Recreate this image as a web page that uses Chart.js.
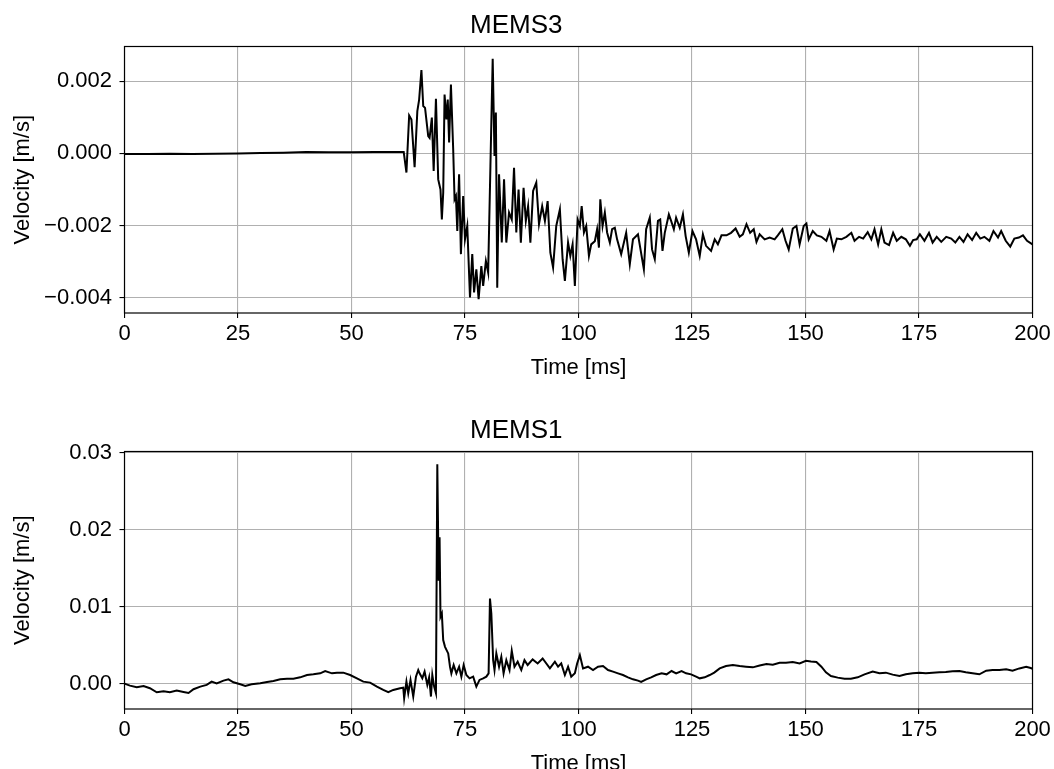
<!DOCTYPE html>
<html><head><meta charset="utf-8">
<script src="https://cdn.jsdelivr.net/npm/chart.js@4/dist/chart.umd.min.js"></script>
<style>
html,body{margin:0;padding:0;background:#fff;overflow:hidden;width:1054px;height:769px;}
canvas{position:absolute;left:0;}
#c1{top:0px}
#c2{top:405px}
</style></head><body>
<canvas id="c1" width="1054" height="384"></canvas>
<canvas id="c2" width="1054" height="375"></canvas>
<script>
const xTicks = [0,25,50,75,100,125,150,175,200];

const mems3Time = [0,5,10,15,20,25,30,35,40,45,50,55,60,61.5,62.1,62.7,63.2,63.9,64.5,64.9,65.4,65.8,66.2,66.9,67.2,67.7,68.1,68.6,69.1,69.6,69.9,70.2,70.5,70.9,71.2,71.5,71.9,72.4,72.7,73.0,73.3,73.7,74.1,74.6,75.0,75.5,76.1,76.6,77.0,77.5,78.0,78.6,79.0,79.6,80.1,80.6,81.1,81.5,81.8,82.1,82.5,83.1,83.6,84.1,84.7,85.3,85.8,86.3,86.8,87.3,87.9,88.4,88.9,89.4,90.0,90.7,91.3,92.0,92.6,93.2,93.8,94.4,95.1,95.9,96.5,97.0,97.7,98.2,98.7,99.2,99.8,100.3,100.7,101.2,101.7,102.3,102.8,103.6,104.1,104.5,104.8,105.3,105.8,106.3,106.9,107.4,108.0,108.5,109.4,110.5,111.3,112.0,113.1,114.4,114.9,115.7,116.2,116.8,117.5,118.0,118.5,119.0,119.9,120.4,121.0,121.5,122.3,123.0,123.6,124.3,125.1,125.9,126.7,127.4,128.1,129.2,130.0,130.7,131.5,132.6,133.6,134.6,135.5,136.2,137.0,137.8,138.6,139.2,139.9,141.0,142.1,143.2,143.9,144.9,145.6,146.3,147.2,148.0,148.7,149.6,150.2,150.7,151.6,152.5,153.5,154.6,155.3,156.2,156.9,157.9,159.0,160.1,160.8,161.8,162.7,163.7,164.5,165.2,166.0,166.7,167.4,168.4,169.3,170.1,171.1,172.1,173.0,173.7,174.5,175.2,176.2,177.2,178.0,178.9,179.9,181.0,182.1,183.0,183.9,184.8,185.7,186.7,187.6,188.5,189.4,190.5,191.4,192.4,193.1,194.1,195.1,196.0,197.0,197.9,198.8,200.0];
const mems3Vel = [-0.00002,-0.00002,-0.00001,-0.00002,-0.00001,0.00000,0.00001,0.00002,0.00004,0.00003,0.00003,0.00004,0.00004,0.00004,-0.00053,0.00105,0.00094,-0.00038,0.00117,0.00149,0.00231,0.00131,0.00126,0.00048,0.00043,0.00099,-0.00049,0.00151,-0.00072,-0.00100,-0.00183,-0.00109,0.00163,0.00094,0.00149,0.00030,0.00191,0.00011,-0.00127,-0.00118,-0.00215,-0.00058,-0.00279,-0.00118,-0.00238,-0.00201,-0.00399,-0.00279,-0.00385,-0.00321,-0.00404,-0.00312,-0.00367,-0.00298,-0.00330,-0.00035,0.00262,-0.00007,0.00113,-0.00372,-0.00058,-0.00247,-0.00072,-0.00247,-0.00164,-0.00183,-0.00040,-0.00219,-0.00100,-0.00247,-0.00095,-0.00187,-0.00146,-0.00247,-0.00104,-0.00081,-0.00196,-0.00146,-0.00187,-0.00132,-0.00275,-0.00316,-0.00201,-0.00155,-0.00293,-0.00353,-0.00247,-0.00284,-0.00252,-0.00367,-0.00183,-0.00201,-0.00146,-0.00219,-0.00201,-0.00284,-0.00252,-0.00243,-0.00210,-0.00261,-0.00127,-0.00201,-0.00164,-0.00219,-0.00247,-0.00210,-0.00206,-0.00238,-0.00279,-0.00220,-0.00307,-0.00238,-0.00224,-0.00321,-0.00210,-0.00178,-0.00266,-0.00293,-0.00187,-0.00183,-0.00270,-0.00220,-0.00169,-0.00187,-0.00210,-0.00178,-0.00206,-0.00169,-0.00229,-0.00275,-0.00215,-0.00238,-0.00284,-0.00224,-0.00256,-0.00270,-0.00238,-0.00252,-0.00227,-0.00227,-0.00220,-0.00208,-0.00231,-0.00224,-0.00196,-0.00220,-0.00210,-0.00245,-0.00224,-0.00238,-0.00233,-0.00238,-0.00227,-0.00210,-0.00242,-0.00266,-0.00208,-0.00201,-0.00252,-0.00201,-0.00194,-0.00238,-0.00215,-0.00227,-0.00231,-0.00242,-0.00215,-0.00266,-0.00236,-0.00238,-0.00231,-0.00220,-0.00242,-0.00231,-0.00236,-0.00218,-0.00238,-0.00210,-0.00252,-0.00210,-0.00247,-0.00254,-0.00220,-0.00242,-0.00231,-0.00238,-0.00256,-0.00240,-0.00238,-0.00224,-0.00242,-0.00220,-0.00247,-0.00231,-0.00245,-0.00231,-0.00236,-0.00247,-0.00231,-0.00245,-0.00224,-0.00240,-0.00220,-0.00236,-0.00231,-0.00242,-0.00215,-0.00233,-0.00215,-0.00242,-0.00258,-0.00236,-0.00233,-0.00227,-0.00242,-0.00252];
const mems3YTicks = [-0.004,-0.002,0,0.002];

const mems1Time = [0,1.2,2.7,4.2,5.6,7.1,8.6,10.0,11.5,13.0,14.1,15.2,16.7,18.1,19.2,20.3,21.8,22.9,24.0,25.5,26.6,28.0,29.9,31.4,32.8,34.3,35.8,37.2,38.7,40.2,41.6,43.1,44.2,45.7,46.8,48.2,49.7,51.2,52.6,54.1,55.6,57.0,58.1,59.2,60.7,61.4,61.6,62.1,62.5,63.0,63.6,64.2,64.7,65.0,65.6,66.1,66.7,67.1,67.5,67.8,68.2,68.6,68.9,69.2,69.4,69.6,69.9,70.2,70.6,71.3,71.7,72.0,72.5,73.1,73.7,74.2,74.7,75.3,76.0,76.8,77.5,78.2,79.0,79.7,80.2,80.5,80.8,81.2,81.5,81.9,82.5,83.0,83.5,84.1,84.8,85.3,85.9,86.6,87.4,88.1,88.8,89.9,91.0,92.1,93.7,94.8,95.5,96.2,97.0,97.7,98.4,99.2,99.7,100.3,101.0,102.1,103.2,104.3,105.4,106.5,107.6,108.7,109.8,110.9,112.0,113.1,113.8,114.9,116.0,117.1,118.3,119.4,120.5,121.5,122.7,123.7,124.8,125.9,126.7,127.8,128.9,129.9,131.1,132.5,134.0,135.5,136.9,138.4,139.9,141.4,142.8,144.3,145.7,147.2,148.7,150.1,151.2,152.4,153.5,154.5,155.6,157.1,158.6,160.0,161.5,163.0,164.8,166.3,167.7,169.2,170.7,172.1,173.6,175.1,176.5,178.0,179.5,180.9,182.4,183.9,185.3,186.8,188.3,189.8,191.2,192.7,194.2,195.6,197.1,198.6,199.6,200.0];
const mems1Vel = [0.00000,-0.00026,-0.00047,-0.00030,-0.00060,-0.00112,-0.00099,-0.00112,-0.00090,-0.00108,-0.00121,-0.00073,-0.00039,-0.00017,0.00026,0.00004,0.00039,0.00056,0.00017,-0.00009,-0.00030,-0.00009,0.00004,0.00022,0.00035,0.00056,0.00065,0.00065,0.00082,0.00112,0.00121,0.00134,0.00164,0.00134,0.00143,0.00143,0.00112,0.00069,0.00026,0.00013,-0.00039,-0.00082,-0.00112,-0.00082,-0.00060,-0.00052,-0.00190,0.00026,-0.00125,0.00048,-0.00168,0.00091,0.00177,0.00134,0.00069,0.00156,-0.00017,0.00082,-0.00168,0.00112,-0.00039,-0.00125,0.02854,0.01340,0.01905,0.00870,0.00913,0.00566,0.00479,0.00393,0.00220,0.00134,0.00242,0.00134,0.00220,0.00091,0.00242,0.00112,0.00069,0.00091,-0.00039,0.00048,0.00069,0.00091,0.00134,0.01106,0.00913,0.00306,0.00177,0.00393,0.00220,0.00350,0.00134,0.00306,0.00177,0.00427,0.00220,0.00285,0.00177,0.00306,0.00242,0.00315,0.00263,0.00328,0.00198,0.00285,0.00220,0.00263,0.00112,0.00220,0.00091,0.00134,0.00263,0.00371,0.00198,0.00220,0.00177,0.00220,0.00229,0.00177,0.00156,0.00134,0.00112,0.00082,0.00056,0.00039,0.00022,0.00056,0.00082,0.00112,0.00134,0.00121,0.00164,0.00134,0.00164,0.00134,0.00121,0.00091,0.00069,0.00082,0.00112,0.00143,0.00198,0.00229,0.00242,0.00229,0.00220,0.00212,0.00237,0.00255,0.00246,0.00272,0.00272,0.00281,0.00263,0.00298,0.00289,0.00281,0.00220,0.00147,0.00099,0.00078,0.00065,0.00065,0.00082,0.00121,0.00156,0.00134,0.00143,0.00117,0.00099,0.00121,0.00134,0.00143,0.00134,0.00143,0.00147,0.00151,0.00160,0.00164,0.00147,0.00134,0.00121,0.00169,0.00177,0.00177,0.00186,0.00169,0.00198,0.00220,0.00203,0.00194];
const mems1YTicks = [0,0.01,0.02,0.03];

const FAMILY = "'Liberation Sans', Arial, Helvetica, sans-serif";
const tickFont = {family: FAMILY, size: 22};
const labelFont = {family: FAMILY, size: 22};
const titleFont = {family: FAMILY, size: 26, weight: 'normal'};

const framePlugin = {
  id: 'frame',
  afterDatasetsDraw(chart) {
    const {ctx, chartArea: {left, top, right, bottom}} = chart;
    ctx.save();
    ctx.strokeStyle = '#000';
    ctx.lineWidth = 1.2;
    ctx.strokeRect(left, top, right - left, bottom - top);
    ctx.restore();
  }
};

function fmt(v, d) {
  const s = Math.abs(v) < 1e-12 ? (0).toFixed(d) : v.toFixed(d);
  return s.replace('-', '\u2212');
}

function makeChart(id, title, times, vels, yMin, yMax, yTicks, dec) {
  const pts = times.map((t, i) => ({x: t, y: vels[i]}));
  return new Chart(document.getElementById(id), {
    type: 'line',
    data: {datasets: [{data: pts, borderColor: '#000', borderWidth: 2, pointRadius: 0, tension: 0, fill: false}]},
    plugins: [framePlugin],
    options: {
      responsive: false, animation: false, devicePixelRatio: 1,
      layout: {padding: {left: 0, right: 21.5, top: 0, bottom: 0}},
      plugins: {
        legend: {display: false}, tooltip: {enabled: false},
        title: {display: true, text: title, font: titleFont, color: '#000', padding: {top: 10, bottom: 5.3}}
      },
      scales: {
        x: {
          type: 'linear', min: 0, max: 200,
          afterBuildTicks: s => { s.ticks = xTicks.map(v => ({value: v})); },
          afterFit: s => { s.height = 71; },
          ticks: {font: tickFont, color: '#000', padding: 3, maxRotation: 0, autoSkip: false, callback: v => String(v)},
          grid: {color: '#b0b0b0', lineWidth: 1.1, tickColor: '#000', tickLength: 5, tickWidth: 1.1},
          border: {display: false},
          title: {display: true, text: 'Time [ms]', font: labelFont, color: '#000', padding: {top: 0, bottom: 3}}
        },
        y: {
          type: 'linear', min: yMin, max: yMax,
          afterBuildTicks: s => { s.ticks = yTicks.map(v => ({value: v})); },
          afterFit: s => { s.width = 124.5; },
          ticks: {font: tickFont, color: '#000', padding: 7.5, callback: v => fmt(v, dec)},
          grid: {color: '#b0b0b0', lineWidth: 1.1, tickColor: '#000', tickLength: 5, tickWidth: 1.1},
          border: {display: false},
          title: {display: true, text: 'Velocity [m/s]', font: labelFont, color: '#000', padding: {top: 10, bottom: 0}}
        }
      }
    }
  });
}

makeChart('c1', 'MEMS3', mems3Time, mems3Vel, -0.00442, 0.00296, mems3YTicks, 3);
makeChart('c2', 'MEMS1', mems1Time, mems1Vel, -0.0033, 0.0302, mems1YTicks, 2);
</script>
</body></html>
